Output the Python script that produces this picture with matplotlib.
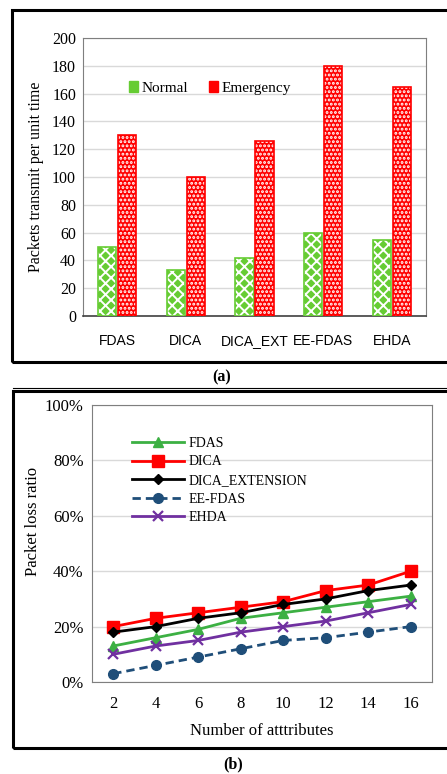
import matplotlib
matplotlib.use("Agg")
import matplotlib.pyplot as plt
import numpy as np
from matplotlib.patches import Rectangle, Patch
from matplotlib.lines import Line2D

# panel (a) data
algos_a = ["FDAS", "DICA", "DICA_EXT", "EE-FDAS", "EHDA"]
normal = [50, 33, 42, 60, 55]
emergency = [130, 100, 126, 180, 165]

# panel (b) data
n_attr = ["2", "4", "6", "8", "10", "12", "14", "16"]
fdas = [13, 16, 19, 23, 25, 27, 29, 31]
dica = [20, 23, 25, 27, 29, 33, 35, 40]
dica_ext = [18, 20, 23, 25, 28, 30, 33, 35]
ee_fdas = [3, 6, 9, 12, 15, 16, 18, 20]
ehda = [10, 13, 15, 18, 20, 22, 25, 28]

serif = "Liberation Serif"
sans = "Liberation Sans"
green = "#66cc33"
red = "#ff0000"

plt.rcParams["hatch.color"] = "white"
plt.rcParams["hatch.linewidth"] = 1.4

W, H = 447, 774
fig = plt.figure(figsize=(W / 100, H / 100), dpi=100)

def fx(px):
    return px / W

def fy(py):
    return 1 - py / H

# outer frames and separator
fig.patches.append(Rectangle((fx(12), fy(362)), 1.2, fy(10) - fy(362), transform=fig.transFigure,
                             fill=False, edgecolor="black", linewidth=2.2))
fig.patches.append(Rectangle((fx(13), fy(748)), 1.2, fy(391) - fy(748), transform=fig.transFigure,
                             fill=False, edgecolor="black", linewidth=2.2))
fig.lines.append(Line2D([fx(13), 1], [fy(388), fy(388)], transform=fig.transFigure,
                        color="black", linewidth=0.8))

# ---------- panel (a) ----------
ax1 = fig.add_axes([fx(83), fy(316), fx(426) - fx(83), fy(38) - fy(316)])
x = np.arange(len(algos_a))
bw = 0.265
off = 0.145
ax1.bar(x - off, normal, bw, color=green, hatch="xxx", linewidth=0, zorder=3)
ax1.bar(x - off, normal, bw, fill=False, edgecolor=green, linewidth=1.2, zorder=4)
ax1.bar(x + off, emergency, bw, color=red, hatch="....", linewidth=0, zorder=3)
ax1.bar(x + off, emergency, bw, fill=False, edgecolor=red, linewidth=1.2, zorder=4)

ax1.set_xlim(-0.5, len(algos_a) - 0.5)
ax1.set_ylim(0, 200)
ax1.set_yticks(np.arange(0, 201, 20))
ax1.set_xticks(x)
ax1.set_xticklabels(algos_a, fontfamily=sans, fontsize=10)
for t in ax1.get_yticklabels():
    t.set_fontfamily(serif)
    t.set_fontsize(11.5)
ax1.tick_params(length=0, pad=5)
ax1.tick_params(axis="x", pad=13)
ax1.grid(axis="y", color="#d9d9d9", linewidth=1, zorder=0)
for s in ["top", "right", "left"]:
    ax1.spines[s].set_color("#7f7f7f")
ax1.spines["bottom"].set_color("#404040")
ax1.spines["bottom"].set_linewidth(1.2)
ax1.set_ylabel("Packets transmit per unit time", fontfamily=serif, fontsize=11.5, labelpad=6)

leg_a = ax1.legend([Patch(facecolor=green, edgecolor=green), Patch(facecolor=red, edgecolor=red)],
                   ["Normal", "Emergency"], loc="center", bbox_to_anchor=(0.37, 0.82), ncol=2,
                   frameon=False, prop={"family": serif, "size": 11}, handlelength=0.6,
                   handleheight=0.7, handletextpad=0.2, columnspacing=1.4)

fig.text(fx(222), fy(377), "(a)", ha="center", va="center", fontfamily=serif, fontsize=11.5,
         fontweight="bold")

# ---------- panel (b) ----------
ax2 = fig.add_axes([fx(92), fy(682), fx(432) - fx(92), fy(405) - fy(682)])
xb = np.arange(len(n_attr))
ax2.plot(xb, fdas, color="#3cb043", marker="^", markersize=7, linewidth=2, label="FDAS", zorder=3)
ax2.plot(xb, dica, color="#ff0000", marker="s", markersize=8, linewidth=2, label="DICA", zorder=3)
ax2.plot(xb, dica_ext, color="black", marker="D", markersize=5.5, linewidth=2,
         label="DICA_EXTENSION", zorder=3)
ax2.plot(xb, ee_fdas, color="#1f4e79", marker="o", markersize=7, linewidth=2, linestyle=(0, (3, 1.8)),
         label="EE-FDAS", zorder=3)
ax2.plot(xb, ehda, color="#7030a0", marker="x", markersize=7, markeredgewidth=1.6, linewidth=2,
         label="EHDA", zorder=3)

ax2.set_xlim(-0.5, len(n_attr) - 0.5)
ax2.set_ylim(0, 100)
ax2.set_yticks(np.arange(0, 101, 20))
ax2.set_yticklabels([f"{v}%" for v in range(0, 101, 20)])
ax2.set_xticks(xb)
ax2.set_xticklabels(n_attr)
for t in ax2.get_xticklabels() + ax2.get_yticklabels():
    t.set_fontfamily(serif)
    t.set_fontsize(12)
ax2.tick_params(length=0, pad=6)
ax2.tick_params(axis="x", pad=10)
ax2.grid(axis="y", color="#d9d9d9", linewidth=1, zorder=0)
for s in ["top", "right", "left", "bottom"]:
    ax2.spines[s].set_color("#7f7f7f")
ax2.set_xlabel("Number of atttributes", fontfamily=serif, fontsize=12, labelpad=8)
ax2.set_ylabel("Packet loss ratio", fontfamily=serif, fontsize=12)
ax2.yaxis.set_label_coords(-0.15, 0.58)

ax2.legend(loc="upper left", bbox_to_anchor=(0.08, 0.93), frameon=False,
           prop={"family": serif, "size": 10}, handlelength=3.8, handletextpad=0.3,
           labelspacing=0.4)

fig.text(fx(233), fy(764), "(b)", ha="center", va="center", fontfamily=serif, fontsize=11.5,
         fontweight="bold")

fig.savefig("out.png", dpi=100)
